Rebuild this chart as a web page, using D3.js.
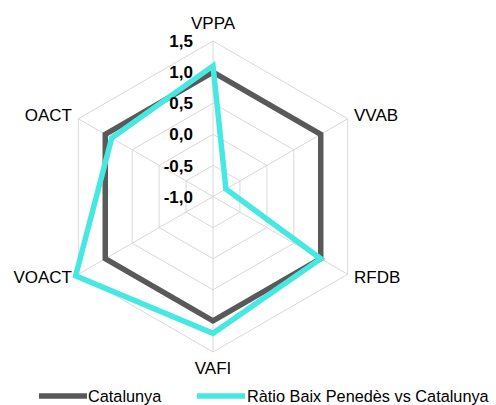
<!DOCTYPE html>
<html><head><meta charset="utf-8">
<script src="https://cdn.jsdelivr.net/npm/d3@7"></script>
<style>html,body{margin:0;padding:0;background:#fff;}svg{display:block;font-family:"Liberation Sans",Arial,sans-serif;}</style>
</head><body>
<svg id="c" width="496" height="405"></svg>
<script>
const axes = ["VPPA","VVAB","RFDB","VAFI","VOACT","OACT"];
const catalunya = [1.0, 1.0, 1.0, 1.0, 1.0, 1.0];
const ratio = [1.1, -0.76, 1.0, 1.2, 1.55, 0.88];
const tickValues = [-1.0, -0.5, 0.0, 0.5, 1.0, 1.5];
const tickLabels = ["-1,0","-0,5","0,0","0,5","1,0","1,5"];
const seriesNames = ["Catalunya","Ràtio Baix Penedès vs Catalunya"];
const colors = ["#595959","#48E8E2"];

const svg = d3.select("#c");
const cx = 213, cy = 196.5, R = 155.5;
const r = d3.scaleLinear().domain([-1.0, 1.5]).range([0, R]);
const ang = d3.scaleLinear().domain([0, axes.length]).range([0, 2*Math.PI]);
const pt = (i, v) => { const a = ang(i); return [cx + r(v)*Math.sin(a), cy - r(v)*Math.cos(a)]; };

// grid rings
const g = svg.append("g");
tickValues.slice(1).forEach(tv => {
  g.append("path")
    .attr("d", d3.line()(axes.map((d,i)=>pt(i,tv))) + "Z")
    .attr("fill","none").attr("stroke","#D9D9D9").attr("stroke-width",1);
});
axes.forEach((d,i)=>{
  const p = pt(i, 1.5);
  g.append("line").attr("x1",cx).attr("y1",cy).attr("x2",p[0]).attr("y2",p[1])
    .attr("stroke","#D9D9D9").attr("stroke-width",1);
});

// series
[catalunya, ratio].forEach((s, k) => {
  svg.append("path")
    .attr("d", d3.line()(s.map((v,i)=>pt(i,v))) + "Z")
    .attr("fill","none").attr("stroke",colors[k]).attr("stroke-width",5.5)
    .attr("stroke-linejoin","miter");
});

// tick labels
tickValues.forEach((tv, j) => {
  svg.append("text").attr("x", cx - 20).attr("y", cy - r(tv))
    .attr("dy","0.36em").attr("text-anchor","end")
    .attr("font-size",17).attr("font-weight","bold").attr("fill","#000")
    .text(tickLabels[j]);
});

// axis labels
const labelPos = [
  {x:213, y:23, a:"middle"},
  {x:354, y:115, a:"start"},
  {x:354, y:277, a:"start"},
  {x:213, y:368, a:"middle"},
  {x:72, y:277, a:"end"},
  {x:72, y:115, a:"end"}
];
axes.forEach((d,i)=>{
  svg.append("text").attr("x",labelPos[i].x).attr("y",labelPos[i].y)
    .attr("dy","0.36em").attr("text-anchor",labelPos[i].a)
    .attr("font-size",17).attr("fill","#000").text(d);
});

// legend
const leg = [{x1:39,x2:87,tx:88},{x1:197,x2:245,tx:247}];
seriesNames.forEach((n,k)=>{
  svg.append("line").attr("x1",leg[k].x1).attr("x2",leg[k].x2).attr("y1",396).attr("y2",396)
    .attr("stroke",colors[k]).attr("stroke-width",5.5);
  svg.append("text").attr("x",leg[k].tx).attr("y",396).attr("dy","0.36em")
    .attr("font-size",16.3).attr("fill","#000").text(n);
});
</script>
</body></html>
